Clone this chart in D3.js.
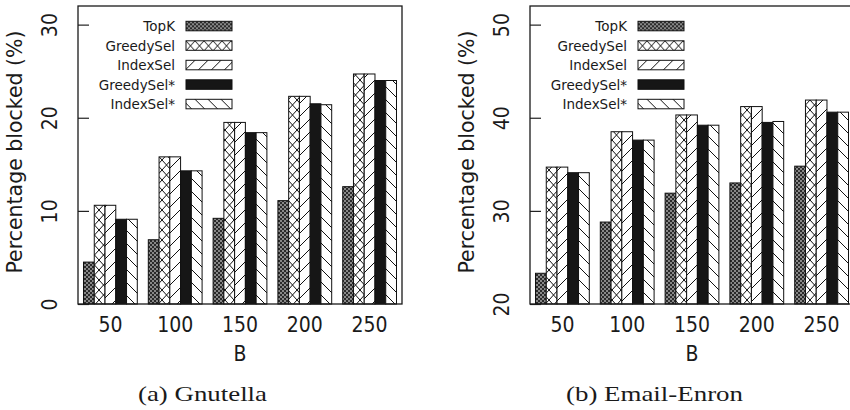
<!DOCTYPE html>
<meta charset="utf-8">
<html>
<head>
<style>
  body { margin: 0; background: #fff; }
  text { fill: #1a1a1a; font-family: "DejaVu Sans", sans-serif; }
</style>
</head>
<body>
<div id="chart"></div>
<script src="https://d3js.org/d3.v7.min.js"></script>
<script>

  // budgets on the x axis and the five methods
  var B = [50, 100, 150, 200, 250];
  var seriesNames = ["TopK", "GreedySel", "IndexSel", "GreedySel*", "IndexSel*"];

  // (a) Gnutella, percentage blocked
  var gnuTopK       = [4.5, 6.9, 9.2, 11.1, 12.6];
  var gnuGreedySel  = [10.6, 15.8, 19.5, 22.3, 24.7];
  var gnuIndexSel   = [10.6, 15.8, 19.5, 22.3, 24.7];
  var gnuGreedySelS = [9.1, 14.3, 18.4, 21.5, 24.0];
  var gnuIndexSelS  = [9.1, 14.3, 18.4, 21.4, 24.0];
  var gnuTicks = [0, 10, 20, 30];

  // (b) Email-Enron, percentage blocked
  var enrTopK       = [23.3, 28.8, 31.9, 33.0, 34.8];
  var enrGreedySel  = [34.7, 38.5, 40.3, 41.2, 41.9];
  var enrIndexSel   = [34.7, 38.5, 40.3, 41.2, 41.9];
  var enrGreedySelS = [34.1, 37.6, 39.2, 39.5, 40.6];
  var enrIndexSelS  = [34.1, 37.6, 39.2, 39.6, 40.6];
  var enrTicks = [20, 30, 40, 50];

  var svg = d3.select("#chart")
    .append("svg")
      .attr("width", 850)
      .attr("height", 410);

  // fill patterns, one per method
  var defs = svg.append("defs");

  var pTop = defs.append("pattern").attr("id", "pat0")
    .attr("patternUnits", "userSpaceOnUse").attr("width", 4).attr("height", 4);
  pTop.append("rect").attr("width", 4).attr("height", 4).attr("fill", "#2a2a2a");
  pTop.append("circle").attr("cx", 1).attr("cy", 1).attr("r", 0.8).attr("fill", "#fff");
  pTop.append("circle").attr("cx", 3).attr("cy", 3).attr("r", 0.8).attr("fill", "#fff");

  var pCross = defs.append("pattern").attr("id", "pat1")
    .attr("patternUnits", "userSpaceOnUse").attr("width", 9).attr("height", 10);
  pCross.append("rect").attr("width", 9).attr("height", 10).attr("fill", "#fff");
  pCross.append("path").attr("d", "M0,0L9,10M9,0L0,10")
    .attr("stroke", "#111").attr("stroke-width", 1).attr("fill", "none");

  var pFwd = defs.append("pattern").attr("id", "pat2")
    .attr("patternUnits", "userSpaceOnUse").attr("width", 13).attr("height", 13);
  pFwd.append("rect").attr("width", 13).attr("height", 13).attr("fill", "#fff");
  pFwd.append("path").attr("d", "M0,13L13,0M-1,1L1,-1M12,14L14,12")
    .attr("stroke", "#111").attr("stroke-width", 1).attr("fill", "none");

  var pBack = defs.append("pattern").attr("id", "pat4")
    .attr("patternUnits", "userSpaceOnUse").attr("width", 13).attr("height", 13);
  pBack.append("rect").attr("width", 13).attr("height", 13).attr("fill", "#fff");
  pBack.append("path").attr("d", "M0,0L13,13M-1,12L1,14M12,-1L14,1")
    .attr("stroke", "#111").attr("stroke-width", 1).attr("fill", "none");

  var fills = ["url(#pat0)", "url(#pat1)", "url(#pat2)", "#161616", "url(#pat4)"];

  function panel(left, domain, ticks, columns, caption, captionLen) {
    var plotW = 324, top = 6, bottom = 304;

    var x0 = d3.scaleBand().domain(B).range([left, left + plotW])
      .paddingInner(0.17).paddingOuter(0.085);
    var x1 = d3.scaleBand().domain(seriesNames).range([0, x0.bandwidth()]);
    var y = d3.scaleLinear().domain(domain).range([bottom, top]);

    // bars
    var rows = B.map(function(b, i) {
      return seriesNames.map(function(s, k) { return { b: b, k: k, s: s, v: columns[k][i] }; });
    });
    svg.append("g")
      .selectAll("g")
      .data(rows)
      .enter().append("g")
      .selectAll("rect")
      .data(function(d) { return d; })
      .enter().append("rect")
        .attr("x", function(d) { return x0(d.b) + x1(d.s); })
        .attr("y", function(d) { return y(d.v); })
        .attr("width", x1.bandwidth())
        .attr("height", function(d) { return y(domain[0]) - y(d.v); })
        .attr("fill", function(d) { return fills[d.k]; })
        .attr("stroke", "#111")
        .attr("stroke-width", 1);

    // y axis, inward ticks and rotated labels
    var ya = svg.append("g")
      .attr("transform", "translate(" + left + ",0)")
      .call(d3.axisLeft(y).tickValues(ticks).tickSize(-11).tickSizeOuter(0));
    ya.select(".domain").remove();
    ya.selectAll("line").attr("stroke", "#222").attr("stroke-width", 1.2);
    ya.selectAll("text")
      .attr("transform", "rotate(-90)")
      .attr("x", 0).attr("y", -21).attr("dy", 0)
      .attr("text-anchor", "middle")
      .style("font-size", "21px")
      .style("font-stretch", "condensed")
      .style("font-family", "'DejaVu Sans', sans-serif")
      .attr("fill", "#1a1a1a");

    // plot border
    svg.append("rect")
      .attr("x", left).attr("y", top)
      .attr("width", plotW).attr("height", bottom - top)
      .attr("fill", "none").attr("stroke", "#1a1a1a").attr("stroke-width", 1.3);

    // x tick labels
    svg.append("g").selectAll("text")
      .data(B)
      .enter().append("text")
        .attr("x", function(d) { return x0(d) + x0.bandwidth() / 2; })
        .attr("y", 332)
        .attr("text-anchor", "middle")
        .style("font-size", "21px")
        .style("font-stretch", "condensed")
        .text(function(d) { return d; });

    svg.append("text")
      .attr("x", left + plotW / 2).attr("y", 361)
      .attr("text-anchor", "middle")
      .style("font-size", "21px")
      .style("font-stretch", "condensed")
      .text("B");

    svg.append("text")
      .attr("transform", "translate(" + (left - 56) + ",152) rotate(-90)")
      .attr("text-anchor", "middle")
      .style("font-size", "20.5px")
      .text("Percentage blocked (%)");

    // legend
    var lg = svg.append("g").selectAll("g")
      .data(seriesNames)
      .enter().append("g")
        .attr("transform", function(d, i) { return "translate(" + left + "," + (21.3 + 19.5 * i) + ")"; });
    lg.append("text")
      .attr("x", 97).attr("y", 10)
      .attr("text-anchor", "end")
      .style("font-size", "13.5px")
      .text(function(d) { return d; });
    lg.append("rect")
      .attr("x", 108).attr("y", 0)
      .attr("width", 46).attr("height", 9.5)
      .attr("fill", function(d, i) { return fills[i]; })
      .attr("stroke", "#111").attr("stroke-width", 1);

    // caption
    svg.append("text")
      .attr("x", left + 124.5).attr("y", 401)
      .attr("text-anchor", "middle")
      .attr("textLength", captionLen)
      .attr("lengthAdjust", "spacingAndGlyphs")
      .style("font-family", "'Liberation Serif', serif")
      .style("font-size", "22px")
      .text(caption);
  }

  panel(78, [0, 32], gnuTicks,
        [gnuTopK, gnuGreedySel, gnuIndexSel, gnuGreedySelS, gnuIndexSelS],
        "(a) Gnutella", 129);
  panel(530, [20, 52], enrTicks,
        [enrTopK, enrGreedySel, enrIndexSel, enrGreedySelS, enrIndexSelS],
        "(b) Email-Enron", 177);

</script>
</body>
</html>
